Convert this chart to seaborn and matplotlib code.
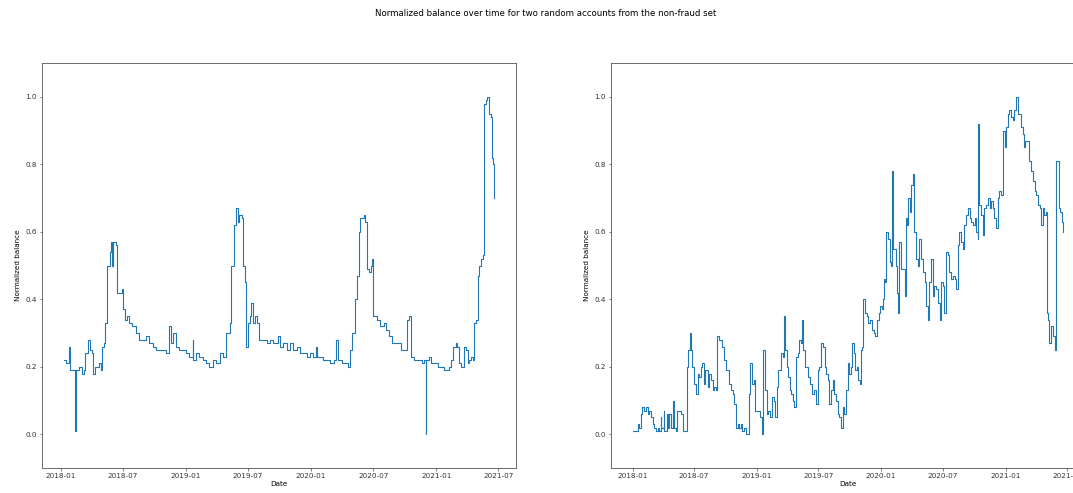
import matplotlib
matplotlib.use("Agg")
import matplotlib.pyplot as plt
import seaborn as sns
import pandas as pd

TITLE = "Normalized balance over time for two random accounts from the non-fraud set"
START = "2018-01-01"

# Account 1 (left): day offsets from START and normalized balance
left_days = [7, 14, 22, 26, 39, 40, 42, 51, 61, 66, 71, 78, 85, 90, 92, 100, 110, 115,
             120, 124, 129, 134, 144, 147, 149, 151, 157, 161, 164, 173, 178, 181, 188,
             193, 198, 208, 218, 227, 247, 257, 267, 276, 296, 306, 316, 320, 327, 335,
             345, 365, 374, 384, 386, 394, 404, 414, 423, 433, 443, 453, 463, 472, 482,
             492, 497, 504, 510, 516, 521, 529, 531, 536, 541, 546, 551, 556, 561, 565,
             572, 578, 590, 600, 610, 619, 634, 639, 649, 659, 668, 678, 688, 698, 708,
             717, 727, 737, 745, 747, 757, 766, 776, 786, 796, 804, 810, 820, 835, 838,
             845, 850, 859, 864, 869, 874, 884, 889, 894, 899, 904, 908, 911, 923, 933,
             943, 948, 957, 967, 982, 992, 1006, 1011, 1016, 1021, 1031, 1041, 1055,
             1060, 1065, 1066, 1075, 1080, 1090, 1100, 1109, 1119, 1129, 1134, 1139,
             1144, 1153, 1158, 1163, 1168, 1173, 1178, 1183, 1188, 1193, 1198, 1202,
             1207, 1212, 1217, 1222, 1227, 1232, 1235, 1240, 1245, 1251, 1256, 1259,
             1263, 1266]
left_vals = [0.22, 0.21, 0.26, 0.19, 0.19, 0.01, 0.19, 0.20, 0.18, 0.19, 0.24, 0.28,
             0.25, 0.24, 0.18, 0.20, 0.21, 0.19, 0.26, 0.27, 0.33, 0.50, 0.54, 0.57,
             0.50, 0.57, 0.57, 0.56, 0.42, 0.42, 0.43, 0.37, 0.34, 0.35, 0.33, 0.32,
             0.30, 0.28, 0.29, 0.27, 0.26, 0.25, 0.25, 0.24, 0.32, 0.27, 0.30, 0.26,
             0.25, 0.24, 0.23, 0.28, 0.22, 0.24, 0.23, 0.22, 0.21, 0.20, 0.22, 0.21,
             0.24, 0.23, 0.30, 0.33, 0.50, 0.62, 0.67, 0.63, 0.65, 0.64, 0.50, 0.45,
             0.26, 0.33, 0.35, 0.39, 0.33, 0.35, 0.33, 0.28, 0.28, 0.27, 0.28, 0.27,
             0.29, 0.26, 0.27, 0.25, 0.27, 0.25, 0.26, 0.24, 0.24, 0.23, 0.24, 0.23,
             0.26, 0.23, 0.23, 0.22, 0.22, 0.21, 0.22, 0.28, 0.22, 0.21, 0.21, 0.20,
             0.25, 0.30, 0.40, 0.47, 0.60, 0.64, 0.65, 0.63, 0.49, 0.48, 0.50, 0.52,
             0.35, 0.34, 0.32, 0.33, 0.31, 0.29, 0.27, 0.27, 0.25, 0.25, 0.34, 0.35,
             0.23, 0.22, 0.22, 0.21, 0.22, 0.00, 0.22, 0.23, 0.21, 0.21, 0.20, 0.20,
             0.19, 0.19, 0.20, 0.22, 0.26, 0.27, 0.26, 0.21, 0.20, 0.20, 0.26, 0.25,
             0.21, 0.22, 0.23, 0.22, 0.33, 0.34, 0.47, 0.50, 0.52, 0.53, 0.98, 0.99,
             1.00, 0.95, 0.94, 0.82, 0.80, 0.70]

# Account 2 (right)
right_days = [0, 10, 15, 20, 25, 29, 34, 39, 44, 49, 54, 59, 64, 69, 74, 78, 83, 85, 91,
              93, 101, 103, 108, 113, 118, 121, 127, 132, 142, 147, 157, 160, 164, 169,
              173, 176, 181, 186, 191, 196, 201, 204, 209, 213, 219, 222, 226, 230, 235,
              240, 245, 248, 255, 262, 268, 274, 279, 284, 289, 294, 299, 304, 309, 314,
              319, 323, 328, 333, 338, 343, 346, 350, 356, 360, 368, 375, 380, 384, 389,
              394, 399, 405, 409, 415, 418, 423, 426, 433, 436, 441, 446, 449, 453, 458,
              462, 466, 470, 475, 480, 485, 490, 495, 498, 502, 507, 513, 516, 522, 527,
              532, 539, 544, 549, 554, 559, 564, 568, 573, 578, 583, 588, 593, 598, 603,
              608, 613, 617, 622, 627, 632, 637, 642, 645, 650, 655, 660, 663, 667, 671,
              674, 678, 683, 688, 693, 698, 703, 708, 713, 718, 724, 728, 732, 736, 740,
              743, 746, 750, 755, 760, 761, 765, 769, 774, 777, 781, 784, 789, 794, 799,
              802, 807, 810, 814, 818, 823, 828, 833, 838, 843, 848, 853, 858, 862, 867,
              872, 877, 882, 887, 892, 897, 902, 907, 911, 916, 921, 926, 931, 936, 941,
              946, 951, 956, 960, 965, 970, 975, 980, 985, 990, 995, 1000, 1005, 1009,
              1014, 1016, 1019, 1024, 1029, 1034, 1039, 1044, 1049, 1054, 1058, 1063,
              1068, 1073, 1078, 1083, 1088, 1093, 1098, 1103, 1107, 1112, 1117, 1122,
              1127, 1132, 1137, 1142, 1147, 1150, 1153, 1161, 1166, 1171, 1176, 1181,
              1186, 1191, 1196, 1201, 1205, 1210, 1215, 1218, 1222, 1225, 1230, 1235,
              1240, 1243, 1250, 1253, 1257, 1262, 1266]
right_vals = [0.01, 0.01, 0.03, 0.02, 0.06, 0.08, 0.07, 0.08, 0.06, 0.07, 0.05, 0.03,
              0.02, 0.01, 0.02, 0.01, 0.05, 0.02, 0.07, 0.01, 0.06, 0.02, 0.06, 0.02,
              0.10, 0.02, 0.01, 0.07, 0.06, 0.01, 0.01, 0.20, 0.25, 0.30, 0.25, 0.20,
              0.15, 0.12, 0.18, 0.17, 0.20, 0.21, 0.15, 0.19, 0.19, 0.14, 0.18, 0.16,
              0.13, 0.14, 0.13, 0.29, 0.28, 0.26, 0.22, 0.19, 0.19, 0.15, 0.13, 0.12,
              0.09, 0.02, 0.03, 0.02, 0.03, 0.01, 0.02, 0.00, 0.00, 0.12, 0.21, 0.15,
              0.16, 0.07, 0.07, 0.05, 0.00, 0.25, 0.13, 0.06, 0.07, 0.05, 0.11, 0.10,
              0.05, 0.14, 0.19, 0.19, 0.24, 0.23, 0.35, 0.25, 0.20, 0.17, 0.13, 0.12,
              0.10, 0.08, 0.23, 0.24, 0.28, 0.27, 0.34, 0.25, 0.20, 0.20, 0.17, 0.15,
              0.12, 0.13, 0.09, 0.19, 0.20, 0.27, 0.26, 0.20, 0.18, 0.16, 0.09, 0.13,
              0.16, 0.12, 0.10, 0.06, 0.05, 0.02, 0.08, 0.06, 0.13, 0.21, 0.18, 0.20,
              0.27, 0.24, 0.19, 0.20, 0.16, 0.15, 0.25, 0.26, 0.40, 0.36, 0.35, 0.33,
              0.34, 0.31, 0.30, 0.29, 0.34, 0.36, 0.38, 0.37, 0.40, 0.46, 0.45, 0.60,
              0.58, 0.51, 0.50, 0.78, 0.55, 0.55, 0.50, 0.42, 0.36, 0.57, 0.49, 0.49,
              0.41, 0.64, 0.62, 0.70, 0.66, 0.74, 0.77, 0.60, 0.52, 0.50, 0.58, 0.52,
              0.48, 0.45, 0.38, 0.34, 0.45, 0.52, 0.41, 0.44, 0.43, 0.39, 0.34, 0.45,
              0.44, 0.36, 0.54, 0.53, 0.48, 0.46, 0.47, 0.46, 0.43, 0.56, 0.60, 0.57,
              0.55, 0.62, 0.65, 0.67, 0.64, 0.63, 0.62, 0.64, 0.60, 0.58, 0.92, 0.68,
              0.65, 0.59, 0.67, 0.68, 0.70, 0.67, 0.69, 0.67, 0.64, 0.61, 0.70, 0.72,
              0.71, 0.90, 0.85, 0.91, 0.95, 0.96, 0.94, 0.93, 0.96, 1.00, 0.95, 0.95,
              0.91, 0.89, 0.85, 0.87, 0.87, 0.81, 0.78, 0.75, 0.72, 0.71, 0.68, 0.67,
              0.62, 0.67, 0.65, 0.66, 0.36, 0.34, 0.27, 0.32, 0.29, 0.25, 0.81, 0.81,
              0.67, 0.66, 0.63, 0.60]

XLABEL = "Date"
YLABEL = "Normalized balance"

plt.rcParams["font.family"] = ["DejaVu Sans"]
FS = 5.2

def to_frame(days, vals):
    d = pd.Timestamp(START) + pd.to_timedelta(days, unit="D")
    return pd.DataFrame({"date": d, "balance": vals})

W, H = 1073, 493
fig = plt.figure(figsize=(W / 100, H / 100), dpi=100)
fig.patch.set_facecolor("white")
ax1 = fig.add_axes([42 / W, 1 - 468 / H, 474 / W, 405 / H])
ax2 = fig.add_axes([611 / W, 1 - 468 / H, 474 / W, 405 / H])

for ax, days, vals in [(ax1, left_days, left_vals), (ax2, right_days, right_vals)]:
    df = to_frame(days, vals)
    sns.lineplot(data=df, x="date", y="balance", ax=ax, color="#1f77b4",
                 linewidth=0.8, drawstyle="steps-post", estimator=None)
    ax.set_ylim(-0.1, 1.1)
    ax.set_xlabel(XLABEL, fontsize=FS, labelpad=1.5)
    ax.set_ylabel(YLABEL, fontsize=FS, labelpad=3)
    ax.tick_params(labelsize=FS, length=1.8, width=0.45, pad=1.8, colors="#333333")
    for s in ax.spines.values():
        s.set_linewidth(0.6)
        s.set_color("#555555")

fig.suptitle(TITLE, fontsize=6.2, x=546 / W, y=1 - 14 / H, va="center")
fig.savefig("out.png", dpi=100, facecolor="white")
